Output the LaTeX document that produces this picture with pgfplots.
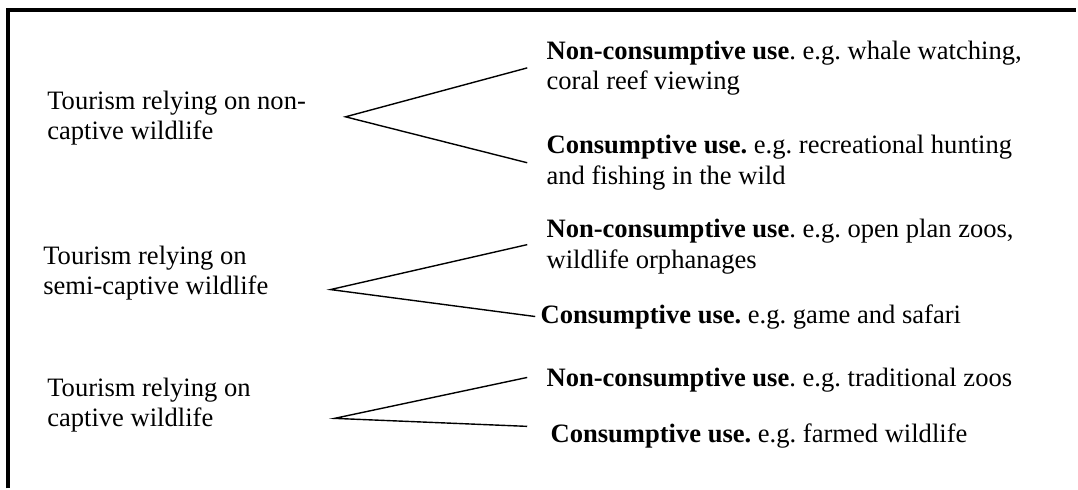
\documentclass[border=0pt]{standalone}
\usepackage{pgfplots}
\pgfplotsset{compat=1.18}
\usepackage{fontspec}
\setmainfont{Liberation Serif}
\newfontfamily\tnr{Liberation Serif}
\frenchspacing
\tikzset{txt/.style={anchor=base west, inner sep=0pt, font=\tnr\fontsize{13.3}{15}\selectfont}}
\begin{document}
\begin{tikzpicture}
\begin{axis}[
  scale only axis, width=539pt, height=244.5pt,
  xmin=0, xmax=1078, ymin=0, ymax=489, y dir=reverse,
  hide axis, clip=false
]
\path (axis cs:0,0) (axis cs:1078,489);
% frame (top and left edges)
\addplot[black, no markers, line width=1.6pt] coordinates {(8,489) (8,10) (1078,10)};
% group 1
\addplot[black, no markers, line width=0.7pt] coordinates {(528,68) (346,117) (528,163)};
% group 2
\addplot[black, no markers, line width=0.7pt] coordinates {(528,245) (331,290) (536,317)};
% group 3
\addplot[black, no markers, line width=0.7pt] coordinates {(528,378) (335,419) (528,427)};
% left labels
\node[txt] at (axis cs:47,110) {Tourism relying on non-};
\node[txt] at (axis cs:47,140) {captive wildlife};
\node[txt] at (axis cs:43,265) {Tourism relying on};
\node[txt] at (axis cs:43,295) {semi-captive wildlife};
\node[txt] at (axis cs:47,397) {Tourism relying on};
\node[txt] at (axis cs:47,427) {captive wildlife};
% right labels
\node[txt] at (axis cs:547,60) {\textbf{Non-consumptive use}. e.g. whale watching,};
\node[txt] at (axis cs:547,90) {coral reef viewing};
\node[txt] at (axis cs:547,154) {\textbf{Consumptive use.} e.g. recreational hunting};
\node[txt] at (axis cs:547,185) {and fishing in the wild};
\node[txt] at (axis cs:547,238) {\textbf{Non-consumptive use}. e.g. open plan zoos,};
\node[txt] at (axis cs:547,269) {wildlife orphanages};
\node[txt] at (axis cs:541,324) {\textbf{Consumptive use.} e.g. game and safari};
\node[txt] at (axis cs:547,387) {\textbf{Non-consumptive use}. e.g. traditional zoos};
\node[txt] at (axis cs:551,443) {\textbf{Consumptive use.} e.g. farmed wildlife};
\end{axis}
\end{tikzpicture}
\end{document}
